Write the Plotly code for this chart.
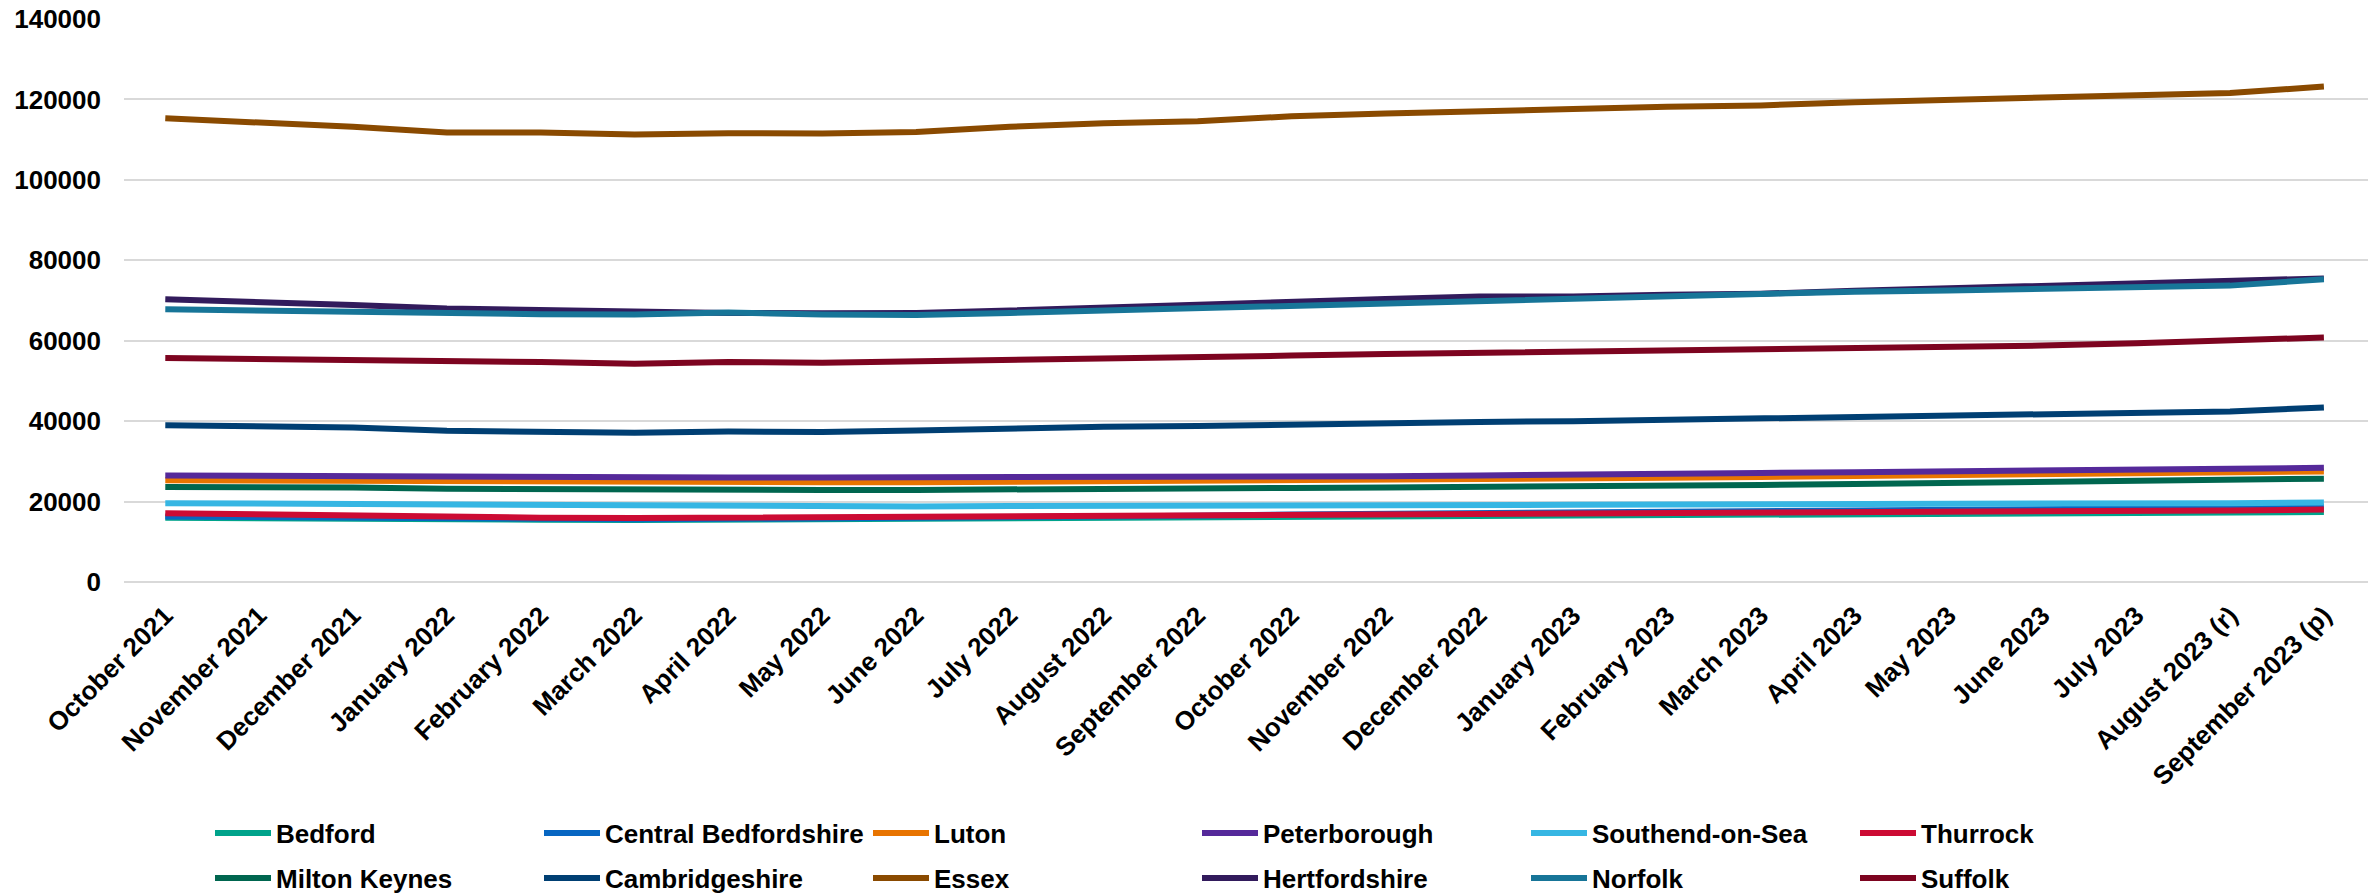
import plotly.graph_objects as go

months = ["October 2021", "November 2021", "December 2021", "January 2022", "February 2022",
          "March 2022", "April 2022", "May 2022", "June 2022", "July 2022", "August 2022",
          "September 2022", "October 2022", "November 2022", "December 2022", "January 2023",
          "February 2023", "March 2023", "April 2023", "May 2023", "June 2023", "July 2023",
          "August 2023 (r)", "September 2023 (p)"]

bedford = [16000, 15800, 15700, 15500, 15500, 15400, 15500, 15500, 15600, 15700, 15800, 15900,
           16100, 16200, 16300, 16400, 16500, 16600, 16700, 16800, 16900, 17000, 17100, 17400]
central_bedfordshire = [16300, 16100, 15900, 15700, 15700, 15600, 15700, 15800, 15900, 16100, 16300, 16500,
                        16800, 17000, 17200, 17400, 17600, 17800, 18000, 18100, 18200, 18300, 18400, 18700]
luton = [25300, 25200, 25100, 24900, 24800, 24800, 24800, 24800, 24800, 24900, 25000, 25100,
         25200, 25300, 25500, 25700, 25900, 26100, 26300, 26500, 26700, 26900, 27000, 27500]
peterborough = [26500, 26400, 26300, 26000, 25900, 25900, 26000, 26000, 26000, 26000, 26000, 26000,
                26100, 26300, 26500, 26800, 27000, 27100, 27300, 27500, 27700, 27900, 28000, 28400]
southend = [19600, 19500, 19300, 19000, 18900, 18800, 18800, 18800, 18800, 18900, 18900, 19000,
            19000, 19100, 19100, 19200, 19300, 19300, 19400, 19500, 19500, 19600, 19600, 19800]
thurrock = [17100, 16800, 16500, 16100, 16000, 15900, 16000, 16000, 16100, 16300, 16400, 16500,
            16700, 16800, 16900, 17000, 17200, 17300, 17400, 17500, 17600, 17700, 17800, 18000]
milton_keynes = [23600, 23600, 23500, 23200, 23100, 22800, 22800, 22900, 22900, 23100, 23200, 23300,
                 23400, 23500, 23600, 23700, 23900, 24100, 24400, 24700, 24900, 25100, 25300, 25700]
cambridgeshire = [39000, 38700, 38400, 37600, 37300, 37100, 37400, 37300, 37700, 38200, 38600, 38800,
                  39200, 39500, 39800, 40000, 40300, 40600, 40900, 41300, 41600, 41900, 42400, 43400]
essex = [115300, 114300, 113200, 111800, 111800, 111300, 111600, 111500, 111900, 113200, 114100, 114600,
         115800, 116500, 117200, 117600, 118200, 118500, 119300, 119800, 120400, 121000, 121600, 123200]
hertfordshire = [70300, 69700, 68900, 68000, 67600, 67000, 66900, 66800, 66900, 67500, 68300, 69000,
                 69800, 70400, 71000, 71000, 71400, 71700, 72400, 73000, 73500, 74200, 74800, 75500]
norfolk = [67800, 67500, 67100, 66700, 66600, 66500, 67000, 66500, 66400, 66900, 67500, 68100,
           68800, 69300, 69800, 70400, 71200, 71600, 72200, 72500, 72800, 73300, 73700, 75300]
suffolk = [55700, 55500, 55200, 54900, 54700, 54300, 54700, 54500, 54800, 55400, 55600, 55800,
           56300, 56700, 57000, 57200, 57600, 57800, 58200, 58500, 58800, 59400, 60000, 60800]

series = [
    ("Bedford", bedford, "#00A38B"),
    ("Central Bedfordshire", central_bedfordshire, "#0766C2"),
    ("Luton", luton, "#E87400"),
    ("Peterborough", peterborough, "#55299A"),
    ("Southend-on-Sea", southend, "#36B6E3"),
    ("Thurrock", thurrock, "#CC0B33"),
    ("Milton Keynes", milton_keynes, "#00664F"),
    ("Cambridgeshire", cambridgeshire, "#003F73"),
    ("Essex", essex, "#8A4A00"),
    ("Hertfordshire", hertfordshire, "#321B5C"),
    ("Norfolk", norfolk, "#177598"),
    ("Suffolk", suffolk, "#7D0420"),
]

FONT = "Liberation Sans, Arial, sans-serif"
FS = 26

fig = go.Figure()
for i, (name, vals, col) in enumerate(series):
    fig.add_trace(go.Scatter(x=months, y=vals, name=name, mode="lines",
                             legend="legend" if i < 6 else "legend2",
                             line=dict(color=col, width=6)))

legend_common = dict(orientation="h", xref="container", yref="container",
                     x=210/2377, xanchor="left", yanchor="middle",
                     entrywidthmode="pixels", entrywidth=258, itemwidth=56,
                     font=dict(family=FONT, size=FS, color="black", weight="bold"),
                     bgcolor="rgba(0,0,0,0)", traceorder="normal", borderwidth=0)

fig.update_layout(
    width=2377, height=895, autosize=False,
    margin=dict(l=124, r=9, t=19, b=313, autoexpand=False),
    paper_bgcolor="white", plot_bgcolor="white",
    font=dict(family=FONT, size=FS, color="black"),
    xaxis=dict(type="category", range=[-0.44, 23.47], tickangle=-45, showgrid=False,
               showline=False, ticks="", ticklabelstandoff=12,
               tickfont=dict(family=FONT, size=FS, color="black", weight="bold")),
    yaxis=dict(range=[0, 140000], dtick=20000, tickformat="d", showgrid=True,
               gridcolor="#D9D9D9", gridwidth=2, zeroline=True, zerolinecolor="#D9D9D9",
               zerolinewidth=2, showline=False, ticks="", ticklabelstandoff=22,
               tickfont=dict(family=FONT, size=FS, color="black", weight="bold")),
    legend=dict(legend_common, y=1-833/895),
    legend2=dict(legend_common, y=1-878/895),
    showlegend=True,
)

fig.write_html("out.html")
